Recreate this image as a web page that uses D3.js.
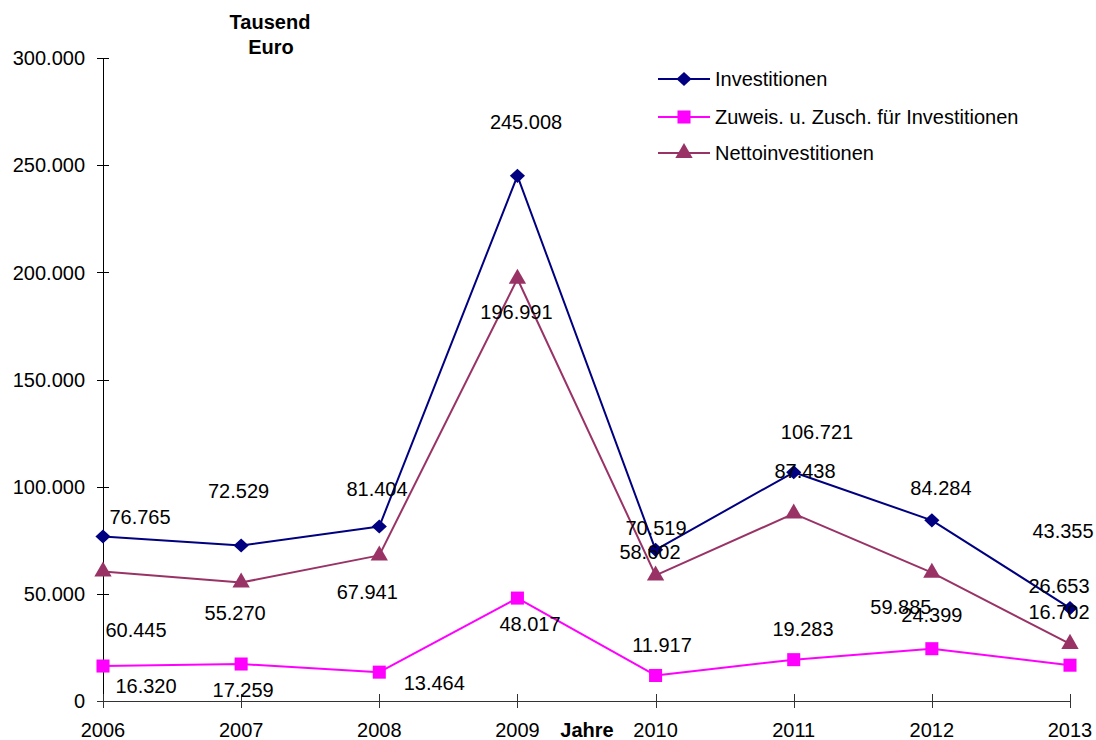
<!DOCTYPE html>
<html>
<head>
<meta charset="utf-8">
<script src="https://cdn.jsdelivr.net/npm/d3@7"></script>
<style>
  html, body { margin: 0; padding: 0; background: #fff; }
  svg { display: block; font-family: "Liberation Sans", Arial, sans-serif; }
</style>
</head>
<body>
<svg id="chart" width="1096" height="740"></svg>
<script>
// ---- data ----
const years = ["2006", "2007", "2008", "2009", "2010", "2011", "2012", "2013"];
const investitionen = [76765, 72529, 81404, 245008, 70519, 106721, 84284, 43355];
const zuweisungen = [16320, 17259, 13464, 48017, 11917, 19283, 24399, 16702];
const nettoinvestitionen = [60445, 55270, 67941, 196991, 58602, 87438, 59885, 26653];
const seriesNames = ["Investitionen", "Zuweis. u. Zusch. für Investitionen", "Nettoinvestitionen"];
const yTicks = [0, 50000, 100000, 150000, 200000, 250000, 300000];

// ---- label placement offsets (layout, px relative to point) ----
const invLabelOffsets = [[37, -19.5], [-2.6, -54.5], [-2.3, -37.5], [8.6, -54], [0.4, -22], [23.3, -40.3], [9.1, -32.4], [-7, -77]];
const zuwLabelOffsets = [[43, 20], [2, 26], [55, 11], [12.6, 26], [6.4, -30.5], [9.3, -30.7], [0, -33.7], [-11, -53]];
const netLabelOffsets = [[33, 58.6], [-6, 30.5], [-12, 36.6], [-1, 33], [-5.6, -23.4], [11.3, -42.6], [-31, 34.4], [-11, -58]];

const colors = ["#000080", "#FF00FF", "#993366"];
// square-ish diamond like the spreadsheet marker
const symbolRhomb = {
  draw(ctx, size) {
    const w = Math.sqrt(size / 2);
    ctx.moveTo(0, -w * 0.93);
    ctx.lineTo(w, 0);
    ctx.lineTo(0, w * 0.93);
    ctx.lineTo(-w, 0);
    ctx.closePath();
  }
};
const shapes = [symbolRhomb, d3.symbolSquare, d3.symbolTriangle];
const symSizes = [115, 170, 130];

const series = [
  { name: seriesNames[0], values: investitionen, offsets: invLabelOffsets, color: colors[0], shape: shapes[0], size: symSizes[0] },
  { name: seriesNames[1], values: zuweisungen, offsets: zuwLabelOffsets, color: colors[1], shape: shapes[1], size: symSizes[1] },
  { name: seriesNames[2], values: nettoinvestitionen, offsets: netLabelOffsets, color: colors[2], shape: shapes[2], size: symSizes[2] }
];

const locale = d3.formatLocale({ decimal: ",", thousands: ".", grouping: [3], currency: ["", " €"] });
const fmt = locale.format(",d");

const svg = d3.select("#chart");
const x = d3.scalePoint().domain(years).range([103, 1070]);
const y = d3.scaleLinear().domain([0, 300000]).range([701, 58]);

const FS = 20;

// Y axis
const yAxisG = svg.append("g");
yAxisG.append("line").attr("x1", 103.5).attr("x2", 103.5).attr("y1", y(300000)).attr("y2", y(0)).attr("stroke", "#000").attr("stroke-width", 1);
yAxisG.selectAll("line.tick").data(yTicks).enter().append("line")
  .attr("class", "tick")
  .attr("x1", 97).attr("x2", 109)
  .attr("y1", d => Math.round(y(d)) + 0.5).attr("y2", d => Math.round(y(d)) + 0.5)
  .attr("stroke", "#000").attr("stroke-width", 1);
yAxisG.selectAll("text").data(yTicks).enter().append("text")
  .attr("x", 85).attr("y", d => y(d)).attr("dy", "0.36em")
  .attr("text-anchor", "end").attr("font-size", FS).attr("fill", "#000")
  .text(d => fmt(d));

// X axis
const xAxisG = svg.append("g");
xAxisG.append("line").attr("x1", 97).attr("x2", 1070).attr("y1", 701.5).attr("y2", 701.5).attr("stroke", "#333").attr("stroke-width", 1);
xAxisG.selectAll("line.tick").data(years).enter().append("line")
  .attr("class", "tick")
  .attr("x1", d => Math.round(x(d)) + 0.5).attr("x2", d => Math.round(x(d)) + 0.5)
  .attr("y1", 694).attr("y2", 708)
  .attr("stroke", "#333").attr("stroke-width", 1);
xAxisG.selectAll("text").data(years).enter().append("text")
  .attr("x", d => x(d)).attr("y", 730).attr("dy", "0.36em")
  .attr("text-anchor", "middle").attr("font-size", FS).attr("fill", "#000")
  .text(d => d);

// Axis titles
svg.append("text").attr("x", 270).attr("y", 22).attr("dy", "0.36em").attr("text-anchor", "middle")
  .attr("font-size", FS).attr("font-weight", "bold").text("Tausend");
svg.append("text").attr("x", 271).attr("y", 47).attr("dy", "0.36em").attr("text-anchor", "middle")
  .attr("font-size", FS).attr("font-weight", "bold").text("Euro");
svg.append("text").attr("x", 587).attr("y", 730).attr("dy", "0.36em").attr("text-anchor", "middle")
  .attr("font-size", FS).attr("font-weight", "bold").text("Jahre");

// Lines & markers
const line = d3.line().x((d, i) => x(years[i])).y(d => y(d));
series.forEach(s => {
  const g = svg.append("g");
  g.append("path").datum(s.values).attr("d", line)
    .attr("fill", "none").attr("stroke", s.color).attr("stroke-width", 2).attr("stroke-linejoin", "round");
  g.selectAll("path.m").data(s.values).enter().append("path")
    .attr("class", "m")
    .attr("d", d3.symbol().type(s.shape).size(s.size))
    .attr("transform", (d, i) => `translate(${x(years[i])},${y(d)})`)
    .attr("fill", s.color);
});

// Data labels
series.forEach(s => {
  svg.append("g").selectAll("text").data(s.values).enter().append("text")
    .attr("x", (d, i) => x(years[i]) + s.offsets[i][0])
    .attr("y", (d, i) => y(d) + s.offsets[i][1])
    .attr("dy", "0.36em")
    .attr("text-anchor", "middle").attr("font-size", FS).attr("fill", "#000")
    .text(d => fmt(d));
});

// Legend
const legendY = [79, 117, 153];
const leg = svg.append("g");
series.forEach((s, i) => {
  const ly = legendY[i];
  leg.append("line").attr("x1", 658).attr("x2", 710).attr("y1", ly).attr("y2", ly)
    .attr("stroke", s.color).attr("stroke-width", 2);
  leg.append("path").attr("d", d3.symbol().type(s.shape).size(s.size))
    .attr("transform", `translate(684,${ly})`).attr("fill", s.color);
  leg.append("text").attr("x", 715).attr("y", ly).attr("dy", "0.36em")
    .attr("font-size", FS).attr("fill", "#000").text(s.name);
});
</script>
</body>
</html>
